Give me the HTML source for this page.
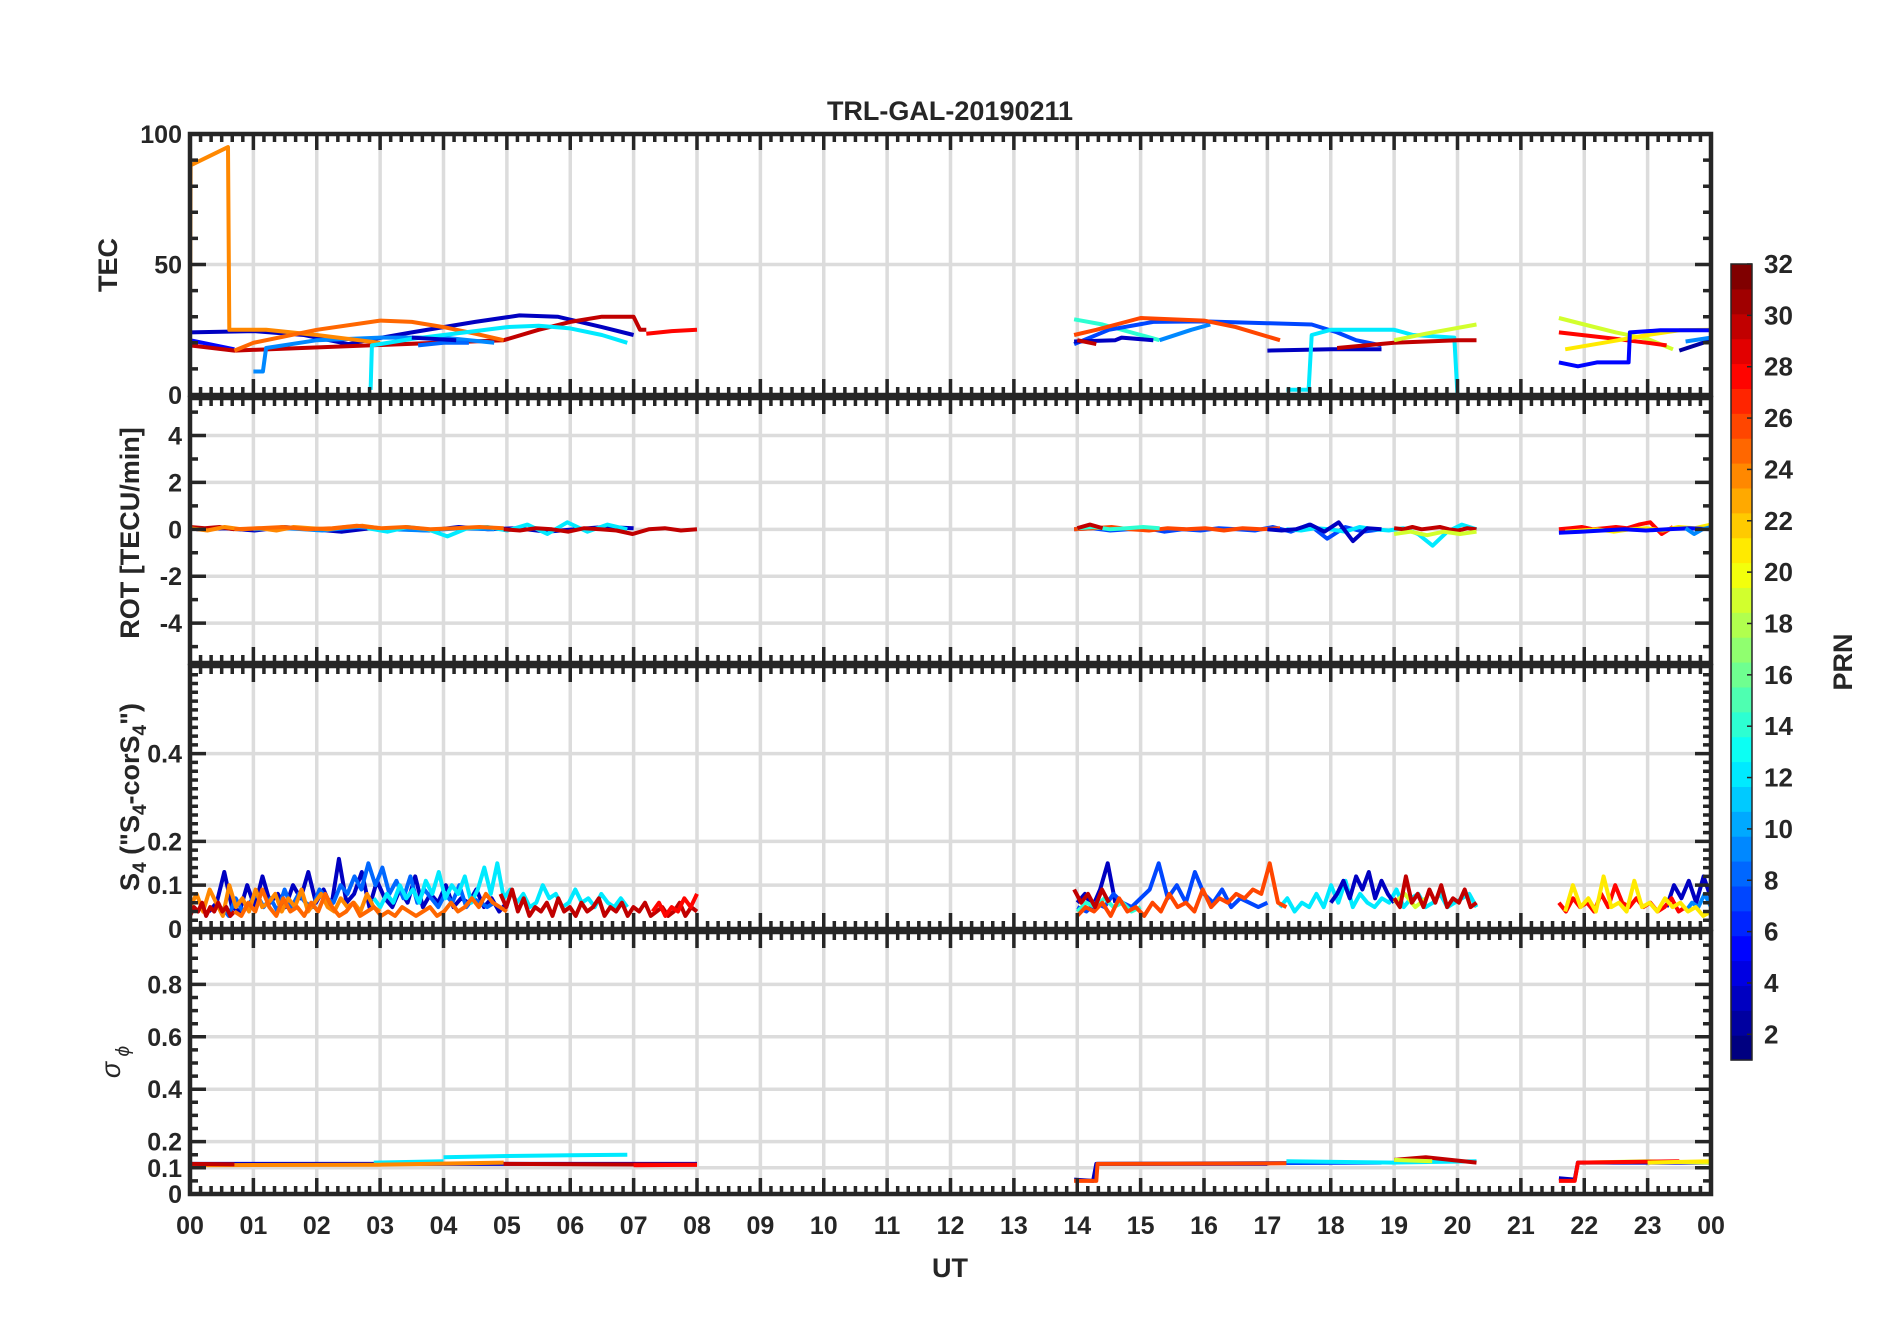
<!DOCTYPE html>
<html><head><meta charset="utf-8"><title>TRL-GAL-20190211</title>
<style>
html,body{margin:0;padding:0;background:#fff;}
svg{display:block;font-family:"Liberation Sans",Arial,sans-serif;}
</style></head>
<body>
<svg id="chart" xmlns="http://www.w3.org/2000/svg" width="1902" height="1330" viewBox="0 0 1902 1330">
<rect x="0" y="0" width="1902" height="1330" fill="#fff"/>
<text x="950" y="120" text-anchor="middle" font-size="27" font-weight="bold" fill="#262626">TRL-GAL-20190211</text>
<text x="950" y="1277" text-anchor="middle" font-size="27" font-weight="bold" fill="#262626">UT</text>
<text transform="translate(117,265) rotate(-90)" text-anchor="middle" font-size="27" font-weight="bold" fill="#262626">TEC</text>
<text transform="translate(139,533) rotate(-90)" text-anchor="middle" font-size="27" font-weight="bold" fill="#262626">ROT [TECU/min]</text>
<text transform="translate(139,797) rotate(-90)" text-anchor="middle" font-size="27" font-weight="bold" fill="#262626">S<tspan font-size="19" dy="7">4</tspan><tspan dy="-7"> ("S</tspan><tspan font-size="19" dy="7">4</tspan><tspan dy="-7">-corS</tspan><tspan font-size="19" dy="7">4</tspan><tspan dy="-7">")</tspan></text>
<text transform="translate(120,1062) rotate(-90)" text-anchor="middle" font-size="27" font-style="italic" fill="#262626">σ<tspan font-size="19" dy="9"> ϕ</tspan></text>
<text transform="translate(1852,662) rotate(-90)" text-anchor="middle" font-size="27" font-weight="bold" fill="#262626">PRN</text>
<g id="layer"></g>
</svg>
<script>
// ---------- data ----------
const hourLabels = ["00","01","02","03","04","05","06","07","08","09","10","11","12","13","14","15","16","17","18","19","20","21","22","23","00"];
const tecTicks = [0,50,100];
const rotTicks = [-4,-2,0,2,4];
const s4Ticks = [0,0.1,0.2,0.4];
const sigTicks = [0,0.1,0.2,0.4,0.6,0.8];
const prnTicks = [2,4,6,8,10,12,14,16,18,20,22,24,26,28,30,32];

// TEC series: prn, times (UT h), values (TECU)
const tecPrn = [5,3,30,9,24,25,12,8,3,28,  14,7,9,26,3,30,3,12,30,19,  19,28,21,5,2,9];
const tecT = [
 [0,0.7],[0,1.0,1.8,2.5,2.8,3.5,4.5,5.2,5.8,6.5,7.0],[0,0.7,4.95,5.5,6.0,6.5,7.0,7.1,7.2],[1.0,1.15,1.2,2.0,3.0,4.0,4.8],
 [0,0.01,0.6,0.62,1.2,2.0,3.0],[0.7,1.0,2.0,3.0,3.5,4.0,4.5,4.95],[2.85,2.87,3.5,4.0,4.5,5.0,5.5,6.0,6.5,6.9],[3.6,4.0,4.4],[3.5,4.2],[7.2,7.6,8.0],
 [13.95,14.4,15.3],[13.95,14.5,15.2,16.0,17.0,17.7,18.1,18.4,18.8],[15.3,15.8,16.1],[13.95,14.3,15.0,16.0,16.5,17.2],[13.95,14.6,14.7,15.2],[14.0,14.3],[17.0,18.0,18.8],
 [17.3,17.65,17.7,18.0,19.0,19.3,19.95,20.0,20.3],[18.1,19.0,20.0,20.3],[19.0,19.5,20.3],
 [21.6,22.0,22.5,23.0,23.4],[21.6,22.5,23.0,23.3],[21.7,22.3,23.0,23.5,24.0],[21.6,21.9,22.2,22.7,22.72,23.2,24.0],[23.5,24.0],[23.6,24.0]
];
const tecV = [
 [21,17.5],[24,24.5,23,19.5,21,24,28,30.5,30,26,23],[19,17,21,25,28,30,30,25,25],[9,9,18,21,22,22,20],
 [25,88,95,25,25,23,20],[17,20,25,28.5,28,26,23.5,21],[2,19,21.5,23,24.5,26,26.5,25.5,23,20],[19,20,20],[22,21],[23.5,24.5,25],
 [29,27,21],[19.5,25,28,28.2,27.5,27,24,21,19],[21,25,27],[23,25,29.5,28.5,26,21],[20.5,21,22,21],[21,19.5],[17,17.5,17.5],
 [2,2,23,25,25,23,22,0,0],[18,20,21,21],[21,23.5,27],
 [29.5,27,24,21.5,17.5],[24,21.5,20,19],[17.5,20,23,24.8,25],[12.5,11,12.5,12.5,24,24.8,24.8],[17,21],[20.5,22]
];

// ROT segments: prn, start, end, evenly-spaced values (TECU/min)
const rotPrn = [3,9,12,30,24,25,30,  7,26,14,30,12,3,30,19,  28,21,5,9];
const rotT0 = [0.1,1.0,2.8,0,0,0.7,4.95, 13.95,13.95,14.0,14.0,17.3,17.0,19.0,19.0, 21.6,21.7,21.6,23.6];
const rotT1 = [7.0,4.8,6.9,0.7,3.0,4.95,8.0, 18.8,17.2,15.3,14.4,20.3,18.8,20.3,20.3, 23.4,24.0,24.0,24.0];
const rotV = [
 [0,0.05,-0.05,0.1,0,-0.1,0.05,0,-0.05,0.1,0,0.05,-0.1,0,0.1,0.05],
 [0,0.05,-0.05,0.1,0,-0.05,0.05,0],
 [0.05,-0.1,0.1,0,-0.3,0.05,0.1,-0.05,0.2,-0.2,0.3,-0.1,0.2,0],
 [0.1,0.05,0.1,0],
 [0.05,-0.05,0.1,0,0.05,-0.05,0.1,0.05,0,0.1,0.15,0.05],
 [0,0.05,0.1,0,0.05,0.15,0.05,0.1,0,0.05,0.1,0.05],
 [0,-0.05,0.05,0,-0.1,0.05,0,-0.05,-0.2,0,0.05,-0.05,0],
 [0,0.05,-0.05,0,0.05,-0.1,0,-0.05,0.05,0,-0.05,0.1,-0.1,0.2,-0.4,0.1,-0.1,0],
 [0,0.05,0.1,0,-0.05,0.05,0,0.05,-0.05,0.05,0,0.05],
 [0.05,0.1,0,0.05,0.1,0.05],
 [0.05,0.2,0.05],
 [0,-0.05,0.05,0,-0.1,0.1,0,-0.05,0.05,-0.2,-0.7,-0.1,0.2,0],
 [0,-0.05,0,0.2,-0.1,0.3,-0.5,0.05,0],
 [0.05,0,0.1,0,0.05,0.1,0,-0.05,0.05,0],
 [-0.2,-0.1,-0.25,-0.1,-0.2,-0.1],
 [0,0.05,0.1,0,0.05,0.1,0.05,0.2,0.3,-0.2,0.1],
 [-0.1,-0.05,0,-0.1,0,0.05,-0.05,0.1,0.05,0.2],
 [-0.15,-0.1,-0.05,0,-0.05,0,0.05,0],
 [0.05,-0.2,0,0.1]
];

// S4 segments: prn, start, end, evenly-spaced values
const s4Prn = [3,8,12,24,30,25,30,28,  3,7,14,12,3,26,30,19,30,  3,9,28,21];
const s4T0 = [0.3,0.5,2.9,0,0,0.7,4.9,7.3, 14.0,14.0,14.0,17.2,18.0,14.0,13.95,19.0,19.0, 23.3,23.6,21.6,21.7];
const s4T1 = [5.0,4.8,6.9,3.0,0.7,5.0,8.0,8.0, 14.6,17.0,15.0,20.3,19.0,17.3,14.5,19.5,20.3, 24.0,24.0,23.6,24.0];
const s4V = [
 [0.04,0.06,0.13,0.05,0.04,0.1,0.05,0.12,0.06,0.08,0.05,0.1,0.07,0.13,0.06,0.09,0.05,0.16,0.06,0.08,0.13,0.05,0.11,0.07,0.05,0.09,0.06,0.12,0.05,0.08,0.06,0.1,0.05,0.07,0.06,0.09,0.05,0.07,0.04,0.06],
 [0.05,0.03,0.07,0.04,0.06,0.08,0.05,0.07,0.04,0.09,0.05,0.08,0.06,0.05,0.09,0.07,0.06,0.1,0.08,0.12,0.09,0.15,0.1,0.14,0.08,0.11,0.07,0.12,0.06,0.09,0.07,0.05,0.08,0.06,0.1,0.05,0.07,0.06,0.05,0.06],
 [0.07,0.05,0.08,0.06,0.1,0.07,0.09,0.06,0.11,0.08,0.13,0.07,0.1,0.08,0.12,0.06,0.09,0.14,0.08,0.15,0.07,0.09,0.06,0.08,0.05,0.06,0.1,0.07,0.08,0.05,0.06,0.09,0.06,0.07,0.05,0.08,0.06,0.05,0.07,0.05],
 [0.05,0.08,0.04,0.09,0.06,0.03,0.1,0.05,0.07,0.04,0.09,0.05,0.06,0.08,0.04,0.07,0.05,0.09,0.04,0.06,0.08,0.05,0.04,0.07,0.05,0.06,0.04,0.08,0.05,0.04],
 [0.03,0.05,0.04,0.06,0.03,0.05,0.04,0.06,0.04,0.05,0.03,0.04],
 [0.04,0.03,0.06,0.04,0.09,0.05,0.03,0.07,0.04,0.05,0.03,0.06,0.04,0.08,0.05,0.03,0.04,0.06,0.03,0.04,0.05,0.03,0.04,0.03,0.05,0.04,0.03,0.04,0.05,0.03,0.04,0.06,0.04,0.05,0.07,0.05,0.08,0.06,0.05,0.04],
 [0.08,0.05,0.09,0.04,0.07,0.03,0.05,0.04,0.06,0.03,0.07,0.04,0.05,0.03,0.06,0.04,0.05,0.07,0.03,0.05,0.04,0.06,0.03,0.05,0.04,0.06,0.03,0.04,0.05,0.03,0.04,0.06,0.03,0.05,0.04],
 [0.04,0.06,0.03,0.05,0.04,0.07,0.05,0.08],
 [0.06,0.08,0.05,0.09,0.15,0.06],
 [0.05,0.04,0.06,0.05,0.08,0.06,0.05,0.07,0.09,0.15,0.07,0.1,0.06,0.13,0.08,0.06,0.09,0.05,0.07,0.06,0.05,0.06],
 [0.04,0.06,0.05,0.07,0.05,0.06,0.04,0.05],
 [0.05,0.07,0.04,0.06,0.05,0.08,0.05,0.1,0.06,0.11,0.05,0.08,0.06,0.05,0.07,0.06,0.09,0.05,0.07,0.08,0.05,0.06,0.08,0.05,0.06,0.07,0.08,0.05],
 [0.06,0.08,0.11,0.07,0.12,0.09,0.13,0.07,0.11,0.08,0.06],
 [0.03,0.05,0.04,0.06,0.03,0.07,0.04,0.05,0.03,0.06,0.04,0.08,0.05,0.06,0.04,0.09,0.05,0.07,0.06,0.08,0.07,0.09,0.08,0.15,0.06,0.05],
 [0.09,0.06,0.08,0.05,0.09,0.06],
 [0.06,0.08,0.05,0.07],
 [0.07,0.05,0.12,0.06,0.08,0.05,0.09,0.06,0.1,0.05,0.07,0.06,0.09,0.05,0.06],
 [0.05,0.1,0.07,0.11,0.06,0.12,0.07],
 [0.04,0.06,0.05,0.08,0.05],
 [0.06,0.04,0.07,0.05,0.06,0.04,0.08,0.05,0.1,0.06,0.05,0.07,0.05,0.06,0.04,0.05,0.07,0.04,0.05],
 [0.04,0.1,0.05,0.07,0.04,0.12,0.05,0.06,0.04,0.11,0.05,0.06,0.04,0.07,0.05,0.06,0.04,0.05,0.03,0.04]
];

// sigma-phi segments: prn, times, values
const sigPrn = [3,12,12,24,30,30,28,  3,7,12,26,30,19,  3,19,28,21];
const sigT = [[0,8],[2.9,4.0],[4.0,5.0,6.0,6.9],[0,3.0,4.95],[0,0.7],[4.95,6.5,8.0],[7.0,8.0],
 [13.95,14.25,14.3,17.0],[14.3,17.0,18.8],[17.3,19.0,20.3],[13.95,14.3,14.32,17.3],[19.0,19.5,20.3],[19.0,19.6],
 [21.6,21.85,21.9,24.0],[22.0,23.0,24.0],[21.6,21.85,21.9,23.5],[23.0,24.0]];
const sigV = [[0.115,0.115],[0.12,0.125],[0.14,0.145,0.148,0.15],[0.11,0.112,0.12],[0.115,0.113],[0.115,0.113,0.112],[0.11,0.112],
 [0.055,0.05,0.115,0.115],[0.115,0.118,0.12],[0.125,0.12,0.125],[0.05,0.05,0.115,0.117],[0.13,0.14,0.12],[0.13,0.125],
 [0.06,0.055,0.12,0.12],[0.12,0.125,0.12],[0.05,0.05,0.12,0.125],[0.12,0.125]];

// ---------- layout ----------
const X0 = 190, X1 = 1711;
const panels = [
 {name:"tec", top:134, bot:395, min:0, max:100, ticks:tecTicks, minorStep:10, labels:["0","50","100"]},
 {name:"rot", top:398, bot:663, min:-5.7, max:5.6, ticks:rotTicks, minorStep:1, labels:["-4","-2","0","2","4"]},
 {name:"s4", top:666, bot:929, min:0, max:0.6, ticks:s4Ticks, minorStep:0.02, labels:["0","0.1","0.2","0.4"]},
 {name:"sigma", top:932, bot:1194, min:0, max:1, ticks:sigTicks, minorStep:0.05, labels:["0","0.1","0.2","0.4","0.6","0.8"]}
];
const xS = h => X0 + h * (X1 - X0) / 24;
const yS = (p, v) => p.bot - (v - p.min) * (p.bot - p.top) / (p.max - p.min);

function jet(prn){
  const t = (prn - 1) / 31;
  const f = x => Math.max(0, Math.min(1, x));
  const r = f(1.5 - Math.abs(4*t - 3)), g = f(1.5 - Math.abs(4*t - 2)), b = f(1.5 - Math.abs(4*t - 1));
  return `rgb(${Math.round(r*255)},${Math.round(g*255)},${Math.round(b*255)})`;
}
const NS = "http://www.w3.org/2000/svg";
const layer = document.getElementById("layer");
function mk(tag, attrs, parent){
  const e = document.createElementNS(NS, tag);
  for (const k in attrs) e.setAttribute(k, attrs[k]);
  (parent || layer).appendChild(e);
  return e;
}
const AX = "#262626";

panels.forEach(p => {
  const g = mk("g", {});
  
  
  for (let h = 1; h < 24; h++) {
    const l = mk("line", {x1:xS(h), x2:xS(h), y1:p.top, y2:p.bot, stroke:"#dcdcdc", "stroke-width":3.5}, g);
    
    
  }
  const gridVals = p.name === "s4" ? p.ticks.concat([0.6]) : p.ticks;
  gridVals.forEach(v => {
    const l = mk("line", {x1:X0, x2:X1, y1:yS(p,v), y2:yS(p,v), stroke:"#dcdcdc", "stroke-width":3.5}, g);
    
    
  });
  p.ticks.forEach((v, i) => {
    const t = mk("text", {x:X0 - 8, y:yS(p,v) + 9, "text-anchor":"end", "font-size":25, "font-weight":"bold", fill:AX}, g);
    t.textContent = p.labels[i];
    
    
  });
  p.g = g;
});

function drawLine(p, prn, ts, vs, name){
  const pts = ts.map((t, i) => xS(t).toFixed(1) + "," + yS(p, vs[i]).toFixed(1)).join(" ");
  const l = mk("polyline", {points:pts, fill:"none", stroke:jet(prn), "stroke-width":4, "stroke-linejoin":"round"}, p.g);
  
  
}
function segTimes(t0, t1, n){ const a = []; for (let i = 0; i < n; i++) a.push(n === 1 ? t0 : t0 + (t1 - t0) * i / (n - 1)); return a; }

tecPrn.forEach((prn, i) => drawLine(panels[0], prn, tecT[i], tecV[i], 'tec-line-prn' + prn));
rotPrn.forEach((prn, i) => drawLine(panels[1], prn, segTimes(rotT0[i], rotT1[i], rotV[i].length), rotV[i], 'rot-line-prn' + prn));
s4Prn.forEach((prn, i) => drawLine(panels[2], prn, segTimes(s4T0[i], s4T1[i], s4V[i].length), s4V[i], 's4-line-prn' + prn));
sigPrn.forEach((prn, i) => drawLine(panels[3], prn, sigT[i], sigV[i], 'sigma-line-prn' + prn));

panels.forEach(p => {
  const g = p.g;
  const fr = mk("rect", {x:X0, y:p.top, width:X1 - X0, height:p.bot - p.top, fill:"none", stroke:AX, "stroke-width":4.5}, g);
  
  
  let d = "";
  for (let m = 0; m <= 24 * 6; m++) {
    const x = xS(m / 6), len = (m % 6 === 0) ? 16 : 8;
    d += `M${x},${p.top}v${len}M${x},${p.bot}v${-len}`;
  }
  const start = Math.ceil(p.min / p.minorStep - 1e-9);
  for (let k = start; k * p.minorStep <= p.max + 1e-9; k++) {
    const v = k * p.minorStep, y = yS(p, v);
    const major = p.ticks.some(t => Math.abs(t - v) < 1e-9);
    const len = major ? 16 : 8;
    d += `M${X0},${y}h${len}M${X1},${y}h${-len}`;
  }
  const tk = mk("path", {d:d, stroke:AX, "stroke-width":3.5, fill:"none"}, g);
  
  
});

hourLabels.forEach((lab, i) => {
  const t = mk("text", {x:xS(i), y:1234, "text-anchor":"middle", "font-size":25, "font-weight":"bold", fill:AX});
  t.textContent = lab;
  
  
});

// colorbar
const CB = {x:1731, w:21, top:264, bot:1060, min:1, max:32};
const cbY = v => CB.bot - (v - CB.min) * (CB.bot - CB.top) / (CB.max - CB.min);
const cbg = mk("g", {});


for (let i = 0; i < 32; i++) {
  const h = (CB.bot - CB.top) / 32;
  const r = mk("rect", {x:CB.x, y:CB.bot - (i + 1) * h, width:CB.w, height:h + 0.6, fill:jet(i + 1)}, cbg);
  
  
}
const cbf = mk("rect", {x:CB.x, y:CB.top, width:CB.w, height:CB.bot - CB.top, fill:"none", stroke:AX, "stroke-width":1.5}, cbg);


prnTicks.forEach(v => {
  const y = cbY(v);
  const l = mk("line", {x1:CB.x + CB.w - 5, x2:CB.x + CB.w, y1:y, y2:y, stroke:AX, "stroke-width":1.5}, cbg);
  
  
  const t = mk("text", {x:CB.x + CB.w + 12, y:y + 9, "font-size":26, "font-weight":"bold", fill:AX}, cbg);
  t.textContent = v;
  
  
});
</script>
</body></html>
